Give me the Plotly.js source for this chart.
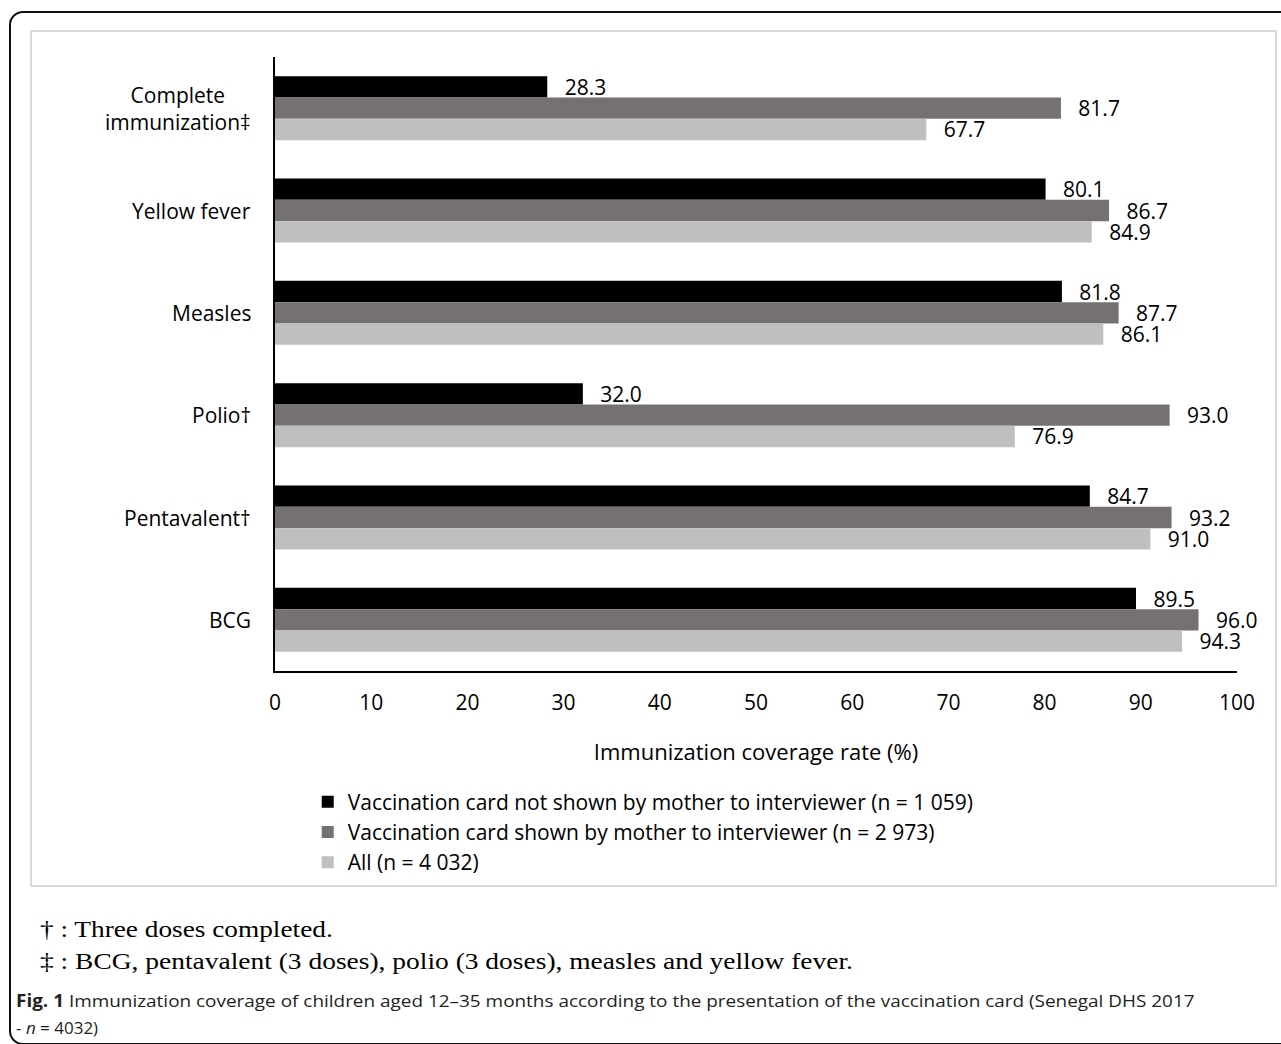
<!DOCTYPE html>
<html>
<head>
<meta charset="utf-8">
<script src="https://cdn.plot.ly/plotly-3.0.1.min.js"></script>
<style>
html, body { margin:0; padding:0; overflow:hidden; width:1281px; height:1044px; background:#fff; }
#frame { position:absolute; left:9px; top:11px; width:1320px; height:1030px; border:2px solid #111; border-radius:14px; }
#box { position:absolute; left:30px; top:30px; width:1243px; height:853px; border:2px solid #dadada; background:#fff; }
#chart { position:absolute; left:0; top:0; width:1281px; height:1044px; }
.fn { position:absolute; left:40px; font-family:"Liberation Serif","Times New Roman",serif; font-size:23px; line-height:26px; white-space:nowrap; color:#000; transform-origin:0 50%; }
.cap { position:absolute; left:16px; font-family:"Open Sans",sans-serif; font-size:17px; line-height:26px; white-space:nowrap; color:#231f20; transform-origin:0 50%; }
</style>
</head>
<body>
<div id="frame"></div>
<div id="box"></div>
<div id="chart"></div>
<div class="fn" id="fn1" style="top:917px">† : Three doses completed.</div>
<div class="fn" id="fn2" style="top:949px">‡ : BCG, pentavalent (3 doses), polio (3 doses), measles and yellow fever.</div>
<div class="cap" id="cap1" style="top:988px"><b>Fig. 1</b> Immunization coverage of children aged 12–35 months according to the presentation of the vaccination card (Senegal DHS 2017</div>
<div class="cap" id="cap2" style="top:1015px">- <i>n</i> = 4032)</div>
<script>
// ---- data ----
const categories = ['Complete<br>immunization‡', 'Yellow fever', 'Measles', 'Polio†', 'Pentavalent†', 'BCG'];
const notShown = [28.3, 80.1, 81.8, 32.0, 84.7, 89.5];
const shown    = [81.7, 86.7, 87.7, 93.0, 93.2, 96.0];
const allKids  = [67.7, 84.9, 86.1, 76.9, 91.0, 94.3];
const seriesNames = [
  'Vaccination card not shown by mother to interviewer (n = 1 059)',
  'Vaccination card shown by mother to interviewer (n = 2 973)',
  'All (n = 4 032)'
];
const xTicks = [0, 10, 20, 30, 40, 50, 60, 70, 80, 90, 100];

const FONT = '"Open Sans", sans-serif';
const colors = ['#000000', '#767171', '#bfbfbf'];
const seriesVals = [notShown, shown, allKids];

const traces = seriesVals.map((vals, i) => ({
  type: 'bar',
  orientation: 'h',
  name: seriesNames[i],
  x: vals,
  y: categories,
  marker: { color: colors[i], line: { width: 0 } },
  texttemplate: '\u00a0\u00a0\u2009%{x:.1f}',
  textposition: 'outside',
  constraintext: 'none',
  cliponaxis: false,
  textfont: { family: FONT, size: 21, color: '#000' },
  hoverinfo: 'skip'
}));

const annotations = categories.map(c => ({
  xref: 'paper', x: 0, xshift: -22, xanchor: 'right',
  yref: 'y', y: c, yanchor: 'middle',
  text: c, showarrow: false, align: 'center',
  font: { family: FONT, size: 21, color: '#000' }
}));

const layout = {
  width: 1281, height: 1044,
  paper_bgcolor: 'rgba(0,0,0,0)', plot_bgcolor: 'rgba(0,0,0,0)',
  margin: { l: 275, r: 44, t: 57, b: 373, pad: 0 },
  barmode: 'group', bargap: 0.375, bargroupgap: 0,
  showlegend: true,
  font: { family: FONT, size: 21, color: '#000' },
  xaxis: {
    range: [0, 100], tickvals: xTicks, ticktext: xTicks.map(String),
    showgrid: false, zeroline: false,
    showline: true, linecolor: '#000', linewidth: 2,
    ticks: '', ticklabelstandoff: 12,
    tickfont: { family: FONT, size: 21, color: '#000' },
    title: { text: 'Immunization coverage rate (%)', font: { family: FONT, size: 22, color: '#000' }, standoff: 29 },
    automargin: false, fixedrange: true
  },
  yaxis: {
    type: 'category', autorange: 'reversed',
    showticklabels: false, showgrid: false, zeroline: false,
    showline: true, linecolor: '#000', linewidth: 2,
    ticks: '', automargin: false, fixedrange: true
  },
  legend: {
    orientation: 'v', x: 0.034, xanchor: 'left', y: -0.18, yanchor: 'top',
    bgcolor: 'rgba(0,0,0,0)', borderwidth: 0,
    font: { family: FONT, size: 21, color: '#000' },
    itemwidth: 30, traceorder: 'normal', tracegroupgap: 0
  },
  annotations: annotations
};

Plotly.newPlot('chart', traces, layout, { displayModeBar: false, staticPlot: true }).then(() => {
  // stretch footnote/caption lines horizontally to the widths in the reference
  const fit = (id, w) => {
    const el = document.getElementById(id);
    const cw = el.scrollWidth;
    if (cw > 0) el.style.transform = 'scaleX(' + (w / cw) + ')';
  };
  fit('fn1', 293);
  fit('fn2', 813);
  fit('cap1', 1179);
});
</script>
</body>
</html>
